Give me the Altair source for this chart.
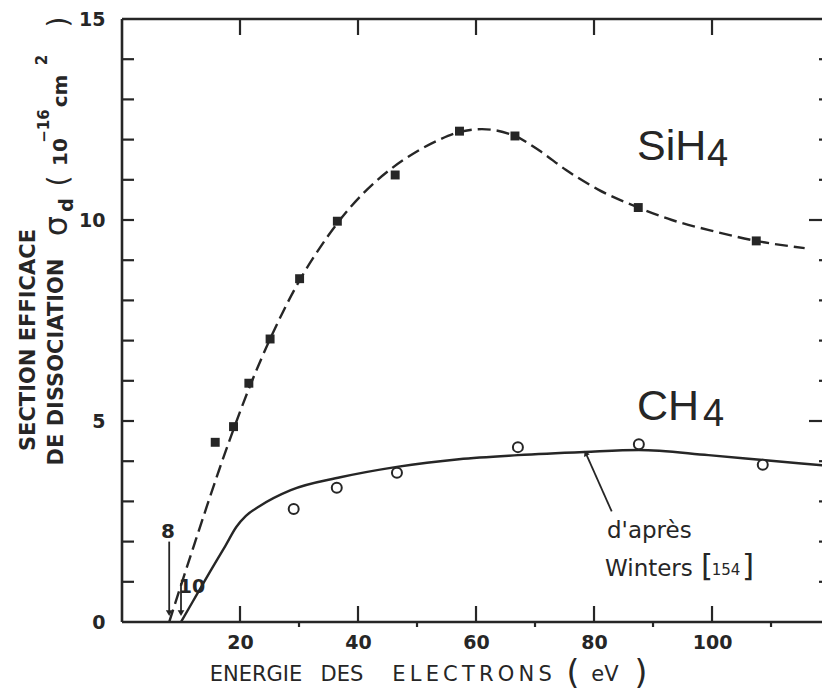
import altair as alt
import pandas as pd

# Measured dissociation cross sections (1e-16 cm^2) versus electron energy (eV)
sih4_energy = [15.8, 18.9, 21.5, 25.1, 30.1, 36.5, 46.3, 57.2, 66.6, 87.5, 107.5]
sih4_sigma = [4.47, 4.86, 5.94, 7.04, 8.54, 9.97, 11.12, 12.21, 12.09, 10.31, 9.48]

ch4_energy = [29.1, 36.4, 46.6, 67.1, 87.6, 108.6]
ch4_sigma = [2.81, 3.34, 3.71, 4.35, 4.42, 3.91]

# Hand-drawn SiH4 trend curve (dashed)
sih4_curve_energy = [8.0, 10.3, 12.3, 14.5, 16.5, 18.5, 21.5, 25.1, 27.3, 30.1, 33.5,
                     36.5, 40.8, 45.4, 49.9, 53.8, 57.2, 61.0, 66.6, 70.8, 75.2, 80.8,
                     87.5, 93.2, 100.6, 107.5, 115.7]
sih4_curve_sigma = [0.0, 1.05, 1.95, 2.93, 3.8, 4.63, 5.8, 7.04, 7.72, 8.5, 9.3,
                    9.92, 10.65, 11.25, 11.7, 12.0, 12.19, 12.26, 12.09, 11.72, 11.25, 10.75,
                    10.31, 10.0, 9.71, 9.48, 9.30]

# CH4 curve after Winters
ch4_curve_energy = [10.0, 12.0, 15.0, 17.5, 19.4, 21.0, 23.3, 28.6, 37.0, 46.6, 57.1,
                    67.1, 78.4, 87.6, 99.4, 108.6, 120.0]
ch4_curve_sigma = [0.0, 0.51, 1.27, 1.89, 2.37, 2.64, 2.88, 3.28, 3.6, 3.86, 4.05,
                   4.15, 4.23, 4.28, 4.15, 4.03, 3.88]

# Dissociation thresholds (eV)
threshold_energy = [8, 10]

x_major_ticks = [20, 40, 60, 80, 100]
x_minor_ticks = [30, 50, 70, 90, 110]
y_tick_labels = [0, 5, 10, 15]
y_minor_ticks = list(range(1, 15))
y_major_right = [5, 10]

W, H = 700, 603
LEFT, TOP = 122, 19
INK = "#262626"
FONT = "DejaVu Sans"

xs = alt.Scale(domain=[0, 118.64], nice=False, zero=False)
ys = alt.Scale(domain=[0, 15], nice=False, zero=False)

sih4_pts = pd.DataFrame({"e": sih4_energy, "s": sih4_sigma})
ch4_pts = pd.DataFrame({"e": ch4_energy, "s": ch4_sigma})
sih4_line = pd.DataFrame({"e": sih4_curve_energy, "s": sih4_curve_sigma})
ch4_line = pd.DataFrame({"e": ch4_curve_energy, "s": ch4_curve_sigma})

x_axis = alt.Axis(values=x_major_ticks, domain=False, ticks=False, grid=False, title=None,
                  labelFont=FONT, labelFontWeight="bold", labelFontSize=19,
                  labelColor=INK, labelPadding=11)
y_axis = alt.Axis(values=y_tick_labels, domain=False, ticks=False, grid=False, title=None,
                  labelFont=FONT, labelFontWeight="bold", labelFontSize=19,
                  labelColor=INK, labelPadding=17)


def X(field="e"):
    return alt.X(f"{field}:Q", scale=xs, axis=x_axis)


def Y(field="s"):
    return alt.Y(f"{field}:Q", scale=ys, axis=y_axis)


one = alt.Data(values=[{"a": 1}])


def label(txt, xo, yo, size, weight="normal", angle=0, align="center",
          baseline="middle", font=FONT):
    return alt.Chart(one).mark_text(
        text=txt, font=font, fontSize=size, fontWeight=weight, angle=angle,
        align=align, baseline=baseline, color=INK
    ).encode(x=alt.value(xo - LEFT), y=alt.value(yo - TOP))


# Curves and measured points
sih4_curve = alt.Chart(sih4_line).mark_line(
    interpolate="monotone", strokeDash=[13, 6], strokeWidth=2.4, color=INK, clip=True
).encode(x=X(), y=Y())

ch4_curve = alt.Chart(ch4_line).mark_line(
    interpolate="monotone", strokeWidth=2.4, color=INK, clip=True
).encode(x=X(), y=Y())

sih4_marks = alt.Chart(sih4_pts).mark_square(size=80, color=INK, opacity=1).encode(x=X(), y=Y())
ch4_marks = alt.Chart(ch4_pts).mark_point(
    shape="circle", size=100, strokeWidth=2, color=INK, fill="white", filled=False, opacity=1
).encode(x=X(), y=Y())

# Frame (left, bottom, top) and inward ticks
frame = [
    alt.Chart(one).mark_rule(color=INK, strokeWidth=2.6).encode(
        x=alt.value(0), y=alt.value(0), y2=alt.value(H)),
    alt.Chart(one).mark_rule(color=INK, strokeWidth=2.6).encode(
        x=alt.value(0), x2=alt.value(W), y=alt.value(H)),
    alt.Chart(one).mark_rule(color=INK, strokeWidth=2.6).encode(
        x=alt.value(0), x2=alt.value(W), y=alt.value(0)),
]

tick_style = dict(color=INK, strokeWidth=2.2)
left_ticks = alt.Chart(pd.DataFrame({"s": y_minor_ticks})).mark_rule(**tick_style).encode(
    y=Y(), x=alt.value(0), x2=alt.value(12))
right_minor = alt.Chart(pd.DataFrame({"s": [v for v in y_minor_ticks if v not in y_major_right]})
                        ).mark_rule(**tick_style).encode(y=Y(), x=alt.value(W - 3), x2=alt.value(W))
right_major = alt.Chart(pd.DataFrame({"s": y_major_right})).mark_rule(**tick_style).encode(
    y=Y(), x=alt.value(W - 13), x2=alt.value(W))
bottom_major = alt.Chart(pd.DataFrame({"e": x_major_ticks})).mark_rule(**tick_style).encode(
    x=X(), y=alt.value(H), y2=alt.value(H - 16))
bottom_minor = alt.Chart(pd.DataFrame({"e": x_minor_ticks})).mark_rule(**tick_style).encode(
    x=X(), y=alt.value(H), y2=alt.value(H + 5))
top_major = alt.Chart(pd.DataFrame({"e": x_major_ticks})).mark_rule(**tick_style).encode(
    x=X(), y=alt.value(0), y2=alt.value(16))

# Threshold arrows at 8 and 10 eV
thr = pd.DataFrame({"e": threshold_energy, "top": [2.0, 0.97], "tip": [0.22, 0.22]})
thr_shaft = alt.Chart(thr).mark_rule(color=INK, strokeWidth=1.8).encode(
    x=X(), y=Y("top"), y2=alt.Y2("tip:Q"))
thr_head = alt.Chart(thr).mark_point(shape="triangle-down", filled=True, size=45,
                                     color=INK, opacity=1).encode(x=X(), y=Y("tip"))

# Pointer from the CH4 curve to the Winters note
pointer = pd.DataFrame({"e": [78.6], "s": [4.2], "e2": [83.0], "s2": [2.75]})
pointer_line = alt.Chart(pointer).mark_rule(color=INK, strokeWidth=1.8).encode(
    x=X(), y=Y(), x2="e2:Q", y2="s2:Q")
pointer_head = alt.Chart(pointer).mark_point(shape="triangle-up", filled=True, size=40,
                                             angle=335, color=INK, opacity=1).encode(
    x=X(), y=Y())

texts = [
    # species labels
    label("SiH", 637, 160, 43, baseline="alphabetic", align="left", font="Liberation Sans"),
    label("4", 707, 166, 38, baseline="alphabetic", align="left", font="Liberation Sans"),
    label("CH", 637, 420, 43, baseline="alphabetic", align="left", font="Liberation Sans"),
    label("4", 703, 426, 38, baseline="alphabetic", align="left", font="Liberation Sans"),
    # note
    label("d'après", 607, 538, 23, align="left", baseline="alphabetic"),
    label("Winters", 605, 576, 23, align="left", baseline="alphabetic"),
    label("[", 707, 567, 31),
    label("154", 726, 570, 15),
    label("]", 748, 567, 31),
    # thresholds
    label("8", 168, 532, 20, weight="bold"),
    label("10", 192, 587, 19, weight="bold"),
    # x title
    label("ENERGIE", 256, 675, 21),
    label("DES", 342, 675, 21),
    label("E\u2009L\u2009E\u2009C\u2009T\u2009R\u2009O\u2009N\u2009S", 472, 675, 21),
    label("(", 573, 674, 33),
    label("eV", 605, 675, 21),
    label(")", 641, 674, 33),
    # y title
    label("SECTION   EFFICACE", 29, 340, 21, weight="bold", angle=270),
    label("DE  DISSOCIATION", 57, 362, 21, weight="bold", angle=270),
    label("σ", 57, 226, 32, angle=270),
    label("d", 67, 205, 19, weight="bold", angle=270),
    label("(", 60, 181, 28, angle=270),
    label("10", 61, 152, 20, weight="bold", angle=270),
    label("\u221216", 44, 126, 15, weight="bold", angle=270),
    label("cm", 61, 91, 20, weight="bold", angle=270),
    label("2", 42, 60, 15, weight="bold", angle=270),
    label(")", 60, 22, 28, angle=270),
]

chart = alt.layer(
    sih4_curve, ch4_curve, sih4_marks, ch4_marks,
    *frame, left_ticks, right_minor, right_major, bottom_major, bottom_minor, top_major,
    thr_shaft, thr_head, pointer_line, pointer_head,
    *texts,
).properties(
    width=W, height=H,
    autosize=alt.AutoSizeParams(type="none"),
    padding={"left": LEFT, "top": TOP, "right": 0, "bottom": 695 - TOP - H},
    background="white",
).configure_view(stroke=None)

chart.save("out.html", embed_options={"renderer": "svg", "actions": False})
